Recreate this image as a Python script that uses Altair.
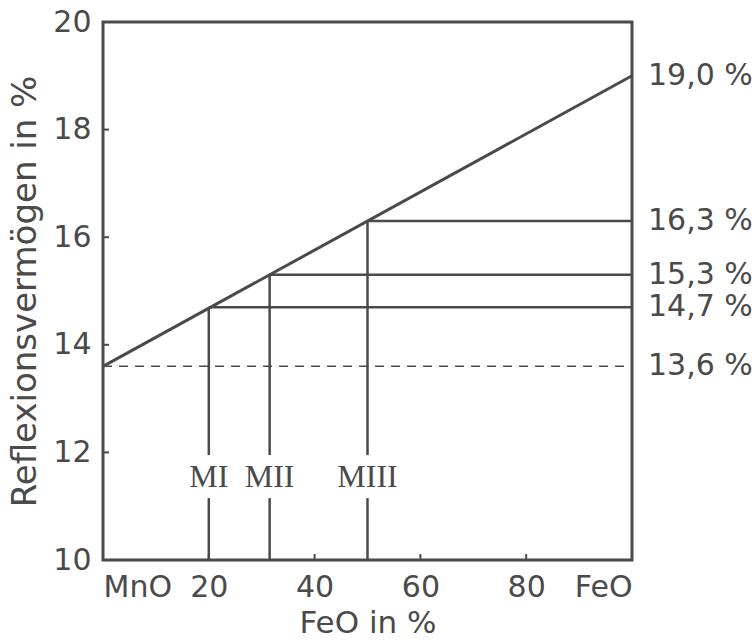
import altair as alt
import pandas as pd

# Reflectance of (Mn,Fe)O mixed crystals vs. FeO content
x_tick_values = [0, 20, 40, 60, 80, 100]
x_tick_text = ["MnO", "20", "40", "60", "80", "FeO"]
y_tick_values = [10, 12, 14, 16, 18, 20]

# Calibration line from pure MnO to pure FeO
line_feo = [0, 100]
line_refl = [13.6, 19.0]

sample_names = ["MI", "MII", "MIII"]
sample_feo = [20, 31.5, 50]
sample_refl = [14.7, 15.3, 16.3]

# Values annotated at the right edge
edge_values = [19.0, 16.3, 15.3, 14.7, 13.6]

# Vertical band left free for the sample names
label_gap = (11.15, 11.95)
label_level = 11.55

W, H = 529, 538
INK = "#4a4a4a"
FONT = "DejaVu Sans"

xs = alt.Scale(domain=[0, 100], nice=False, zero=False)
ys = alt.Scale(domain=[10, 20], nice=False, zero=False)

label_expr = " : ".join(
    f"datum.value == {v} ? '{t}'" for v, t in zip(x_tick_values, x_tick_text)
) + " : datum.label"

x_axis = alt.Axis(
    values=x_tick_values, labelExpr=label_expr, title="FeO in %",
    ticks=False, tickSize=0, domain=False, grid=False,
    labelPadding=12, titlePadding=6, titleFontSize=31,
)
y_axis = alt.Axis(
    values=y_tick_values, title="Reflexionsvermögen in %",
    ticks=False, tickSize=0, domain=False, grid=False,
    labelPadding=12, titlePadding=10, titleFontSize=34,
)


def X(field):
    return alt.X(field, type="quantitative", scale=xs, axis=x_axis)


def Y(field):
    return alt.Y(field, type="quantitative", scale=ys, axis=y_axis)


line_df = pd.DataFrame({"feo": line_feo, "refl": line_refl})
samples = pd.DataFrame({
    "name": sample_names, "feo": sample_feo, "refl": sample_refl,
    "end": 100, "gap_lo": label_gap[0], "gap_hi": label_gap[1],
    "bottom": 10, "lvl": label_level,
})
edge_df = pd.DataFrame({
    "v": edge_values,
    "txt": [f"{v:.1f}".replace(".", ",") + " %" for v in edge_values],
    "x": 100,
})
dash_df = pd.DataFrame({"y": [line_refl[0]], "x0": [0], "x1": [100]})
ytick_df = pd.DataFrame({"t": y_tick_values[1:-1]})
xtick_df = pd.DataFrame({"t": x_tick_values[1:-1]})

calib = alt.Chart(line_df).mark_line(color=INK, strokeWidth=3).encode(
    x=X("feo"), y=Y("refl")
)

dashed = alt.Chart(dash_df).mark_rule(
    color=INK, strokeWidth=1.5, strokeDash=[9, 7]
).encode(x=X("x0"), x2="x1", y=Y("y"))

horiz = alt.Chart(samples).mark_rule(color=INK, strokeWidth=2.5).encode(
    x=X("feo"), x2="end", y=Y("refl")
)

vert_hi = alt.Chart(samples).mark_rule(color=INK, strokeWidth=2.5).encode(
    x=X("feo"), y=Y("gap_hi"), y2="refl"
)

vert_lo = alt.Chart(samples).mark_rule(color=INK, strokeWidth=2.5).encode(
    x=X("feo"), y=Y("bottom"), y2="gap_lo"
)

names = alt.Chart(samples).mark_text(
    font="Liberation Serif", fontSize=32, color=INK,
    align="center", baseline="middle",
).encode(x=X("feo"), y=Y("lvl"), text="name")

edge_labels = alt.Chart(edge_df).mark_text(
    font=FONT, fontSize=30, color=INK, align="left", baseline="middle", dx=16,
).encode(x=X("x"), y=Y("v"), text="txt")

ytick = alt.Chart(ytick_df).mark_rule(color=INK, strokeWidth=2).encode(
    y=Y("t"), x=alt.value(0), x2=alt.value(6)
)
xtick = alt.Chart(xtick_df).mark_rule(color=INK, strokeWidth=2).encode(
    x=X("t"), y=alt.value(H), y2=alt.value(H - 6)
)

chart = alt.layer(
    dashed, calib, horiz, vert_hi, vert_lo, names, edge_labels, ytick, xtick
).properties(
    width=W, height=H,
    autosize=alt.AutoSizeParams(type="none"),
    padding={"left": 103, "top": 22, "right": 124, "bottom": 84},
    background="white",
).configure_view(
    stroke=INK, strokeWidth=3
).configure_axis(
    labelFont=FONT, labelFontSize=30, labelColor=INK,
    titleFont=FONT, titleColor=INK, titleFontWeight="normal",
)

chart.save("out.html", embed_options={"renderer": "svg", "actions": False})
